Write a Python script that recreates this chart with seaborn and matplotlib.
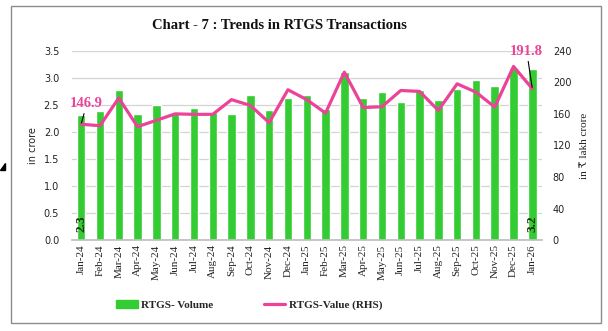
import numpy as np
import pandas as pd
import matplotlib
matplotlib.use("Agg")
import matplotlib.pyplot as plt
import matplotlib.patches as mpatches
from matplotlib.lines import Line2D
import seaborn as sns

months = ["Jan-24", "Feb-24", "Mar-24", "Apr-24", "May-24", "Jun-24", "Jul-24",
          "Aug-24", "Sep-24", "Oct-24", "Nov-24", "Dec-24", "Jan-25", "Feb-25",
          "Mar-25", "Apr-25", "May-25", "Jun-25", "Jul-25", "Aug-25", "Sep-25",
          "Oct-25", "Nov-25", "Dec-25", "Jan-26"]
volume = [2.31, 2.38, 2.77, 2.34, 2.49, 2.35, 2.45, 2.37, 2.33, 2.68, 2.41, 2.62,
          2.68, 2.43, 3.10, 2.62, 2.73, 2.55, 2.77, 2.58, 2.80, 2.95, 2.84, 3.18, 3.17]
value = [146.9, 145.0, 180.0, 143.8, 151.8, 160.0, 159.4, 159.4, 178.0, 170.7,
         148.9, 190.5, 178.0, 161.0, 212.8, 168.0, 169.0, 189.6, 188.4, 164.4,
         198.0, 187.5, 168.6, 220.0, 191.8]
left_ticks = [0.0, 0.5, 1.0, 1.5, 2.0, 2.5, 3.0, 3.5]
right_ticks = [0, 40, 80, 120, 160, 200, 240]

df = pd.DataFrame({"month": months, "volume": volume, "value": value})
df["pos"] = df.index

GREEN = "#33CC33"
PINK = "#EC4399"
SERIF = ["Liberation Serif", "DejaVu Serif", "DejaVu Sans"]

sns.set_theme(style="white")
plt.rcParams["font.family"] = ["DejaVu Sans"]

fig = plt.figure(figsize=(6.08, 3.31), dpi=100)
ax = fig.add_axes([0.118, 0.274, 0.773, 0.573])

sns.barplot(data=df, x="month", y="volume", color=GREEN, saturation=1,
            width=0.45, ax=ax, zorder=2)
ax.set_ylim(0, 3.5)
ax.set_yticks(left_ticks)
ax.set_yticklabels([f"{t:.1f}" for t in left_ticks], fontsize=7, color="#222222")
ax.yaxis.grid(True, color="#d4d4d4", lw=0.9, zorder=0)
ax.set_axisbelow(True)
ax.set_xlim(-0.5, len(months) - 0.5)
ax.set_xlabel("")
ax.set_ylabel("in crore", fontsize=7, color="#222222", labelpad=4)
ax.tick_params(axis="y", length=0, pad=9)
ax.tick_params(axis="x", length=0, pad=3)
for lab in ax.get_xticklabels():
    lab.set_rotation(90)
    lab.set_fontfamily(SERIF)
    lab.set_fontsize(8)
    lab.set_color("#222222")
for s in ["left", "right", "top"]:
    ax.spines[s].set_visible(False)
ax.spines["bottom"].set_color("#bfbfbf")
# separators between categories on the x axis
ax.set_xticks(np.arange(-0.5, len(months), 1.0), minor=True)
ax.tick_params(axis="x", which="minor", length=4, color="#bfbfbf", width=0.8)

ax2 = ax.twinx()
sns.lineplot(data=df, x="pos", y="value", color=PINK, lw=2.3, ax=ax2,
             sort=False, zorder=3)
ax2.set_ylim(0, 240)
ax2.set_yticks(right_ticks)
ax2.set_yticklabels([str(t) for t in right_ticks], fontsize=7, color="#222222")
ax2.tick_params(axis="y", length=0, pad=8)
ax2.set_ylabel("in \u20b9 lakh crore", fontsize=8, family=SERIF, color="#222222",
               labelpad=6)
ax2.set_xlabel("")
for s in ["left", "right", "top", "bottom"]:
    ax2.spines[s].set_visible(False)

# value labels on the first and last points
first, last = 0, len(months) - 1
ax2.annotate(f"{value[first]:.1f}", xy=(first, value[first]), xytext=(4, 10),
             textcoords="offset points", ha="center", va="bottom",
             fontsize=10.5, fontweight="bold", color=PINK, family=SERIF,
             arrowprops=dict(arrowstyle="-", color="black", lw=0.8,
                             shrinkA=0, shrinkB=1))
ax2.annotate(f"{value[last]:.1f}", xy=(last, value[last]), xytext=(-4, 22),
             textcoords="offset points", ha="center", va="bottom",
             fontsize=10.5, fontweight="bold", color=PINK, family=SERIF,
             arrowprops=dict(arrowstyle="-", color="black", lw=0.8,
                             shrinkA=0, shrinkB=1))
for i in (first, last):
    ax.annotate(f"{volume[i]:.1f}", xy=(i, 0), xytext=(0, 6),
                textcoords="offset points", ha="center", va="bottom",
                rotation=90, fontsize=9.5, fontweight="bold",
                color="#1c2e10", family=SERIF, zorder=5)

fig.suptitle("Chart - 7 : Trends in RTGS Transactions", x=0.46, y=0.943,
             fontsize=10.5, fontweight="bold", family=SERIF, color="#111111")

handles = [mpatches.Patch(color=GREEN), Line2D([0], [0], color=PINK, lw=2.3)]
fig.legend(handles, ["RTGS- Volume", "RTGS-Value (RHS)"], loc="center",
           bbox_to_anchor=(0.41, 0.079), ncol=2, frameon=False,
           prop={"family": SERIF, "weight": "bold", "size": 8},
           handlelength=1.9, handleheight=0.7, columnspacing=4.6,
           handletextpad=0.3)

# outer frame
fig.patches.append(mpatches.Rectangle((11 / 608, 1 - 323 / 331), 590 / 608,
                                      317 / 331, transform=fig.transFigure,
                                      fill=False, edgecolor="#8c8c8c", lw=1.0))
fig.patches.append(mpatches.Polygon([(0, 1 - 170 / 331), (5 / 608, 1 - 170 / 331),
                                     (5 / 608, 1 - 163 / 331)],
                                    closed=True, transform=fig.transFigure,
                                    color="black"))

fig.savefig("out.png", dpi=100)
